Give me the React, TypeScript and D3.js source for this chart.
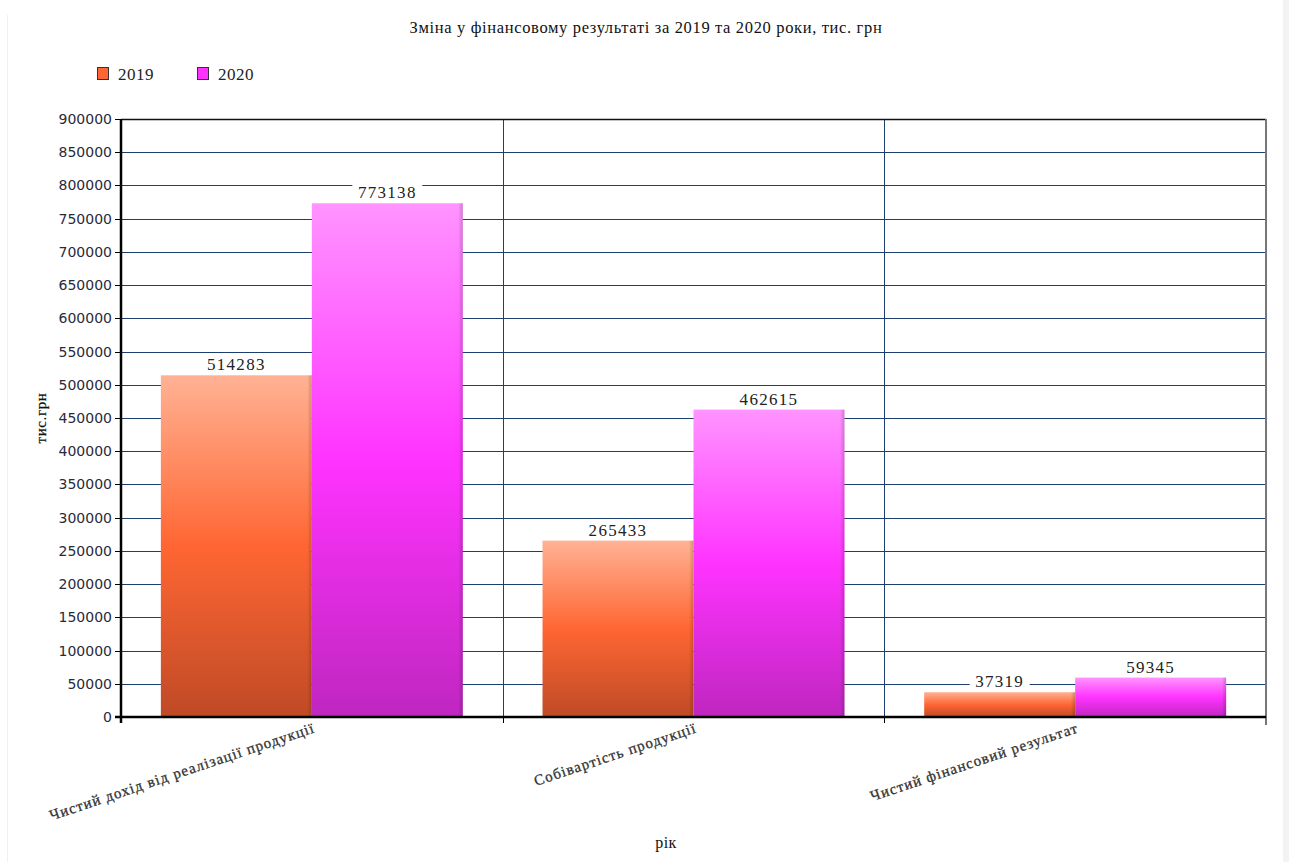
import React from "react";
import * as d3 from "d3";

const categories = [
  "Чистий дохід від реалізації продукції",
  "Собівартість продукції",
  "Чистий фінансовий результат",
];
const seriesNames = ["2019", "2020"];
const values2019 = [514283, 265433, 37319];
const values2020 = [773138, 462615, 59345];
const yTicks = d3.range(0, 900001, 50000);

const W = 1289;
const H = 862;
const M = { left: 121, right: 1266, top: 119, bottom: 717 };

export default function App() {
  const x0 = d3
    .scaleBand<string>()
    .domain(categories)
    .range([M.left, M.right])
    .paddingInner(0)
    .paddingOuter(0);
  const x1 = d3
    .scaleBand<string>()
    .domain(seriesNames)
    .range([0, x0.bandwidth()])
    .paddingOuter(0.264)
    .paddingInner(0);
  const y = d3.scaleLinear().domain([0, 900000]).range([M.bottom, M.top]);

  const series = [
    { name: "2019", values: values2019, grad: "g2019", legend: "#ff6633" },
    { name: "2020", values: values2020, grad: "g2020", legend: "#ff33ff" },
  ];

  const serif = "'Liberation Serif', 'Times New Roman', serif";
  const sans = "'DejaVu Sans', Verdana, sans-serif";

  return (
    <svg
      width={W}
      height={H}
      style={{ position: "absolute", left: 0, top: 0, display: "block", background: "#fff" }}
    >
      <defs>
        <linearGradient id="g2019" x1="0" y1="0" x2="0" y2="1">
          <stop offset="0" stopColor="#ffb294" />
          <stop offset="0.5" stopColor="#ff6633" />
          <stop offset="1" stopColor="#bf4a26" />
        </linearGradient>
        <linearGradient id="g2020" x1="0" y1="0" x2="0" y2="1">
          <stop offset="0" stopColor="#ff94ff" />
          <stop offset="0.5" stopColor="#ff33ff" />
          <stop offset="1" stopColor="#bf26bf" />
        </linearGradient>
        <linearGradient id="edge" x1="0" y1="0" x2="1" y2="0">
          <stop offset="0" stopColor="#000" stopOpacity="0" />
          <stop offset="0.97" stopColor="#000" stopOpacity="0" />
          <stop offset="1" stopColor="#000" stopOpacity="0.18" />
        </linearGradient>
      </defs>

      <rect x={1283} y={0} width={6} height={H} fill="#f3f3f3" />
      <line x1={7.5} y1={15} x2={7.5} y2={H} stroke="#f0f0f0" />

      {/* Title */}
      <text
        x={646}
        y={33}
        textAnchor="middle"
        fontFamily={serif}
        fontSize={16.5}
        letterSpacing={0.65}
        fill="#111"
      >
        Зміна у фінансовому результаті за 2019 та 2020 роки, тис. грн
      </text>

      {/* Legend */}
      {series.map((s, i) => (
        <g key={s.name} transform={`translate(${97 + i * 100},67)`}>
          <rect x={0.5} y={0.5} width={11} height={12} fill={s.legend} stroke="#333" />
          <text x={21} y={12.5} fontFamily={serif} fontSize={17} letterSpacing={0.5} fill="#222">
            {s.name}
          </text>
        </g>
      ))}

      {/* Horizontal gridlines */}
      {yTicks.filter((t) => t > 0 && t < 900000).map((t) => (
        <line
          key={t}
          x1={M.left}
          x2={M.right}
          y1={Math.round(y(t)) + 0.5}
          y2={Math.round(y(t)) + 0.5}
          stroke="#1c3f70"
          strokeWidth={1}
        />
      ))}
      {/* Vertical separators */}
      {categories.slice(1).map((c) => (
        <line
          key={c}
          x1={Math.round(x0(c)!) + 0.5}
          x2={Math.round(x0(c)!) + 0.5}
          y1={M.top}
          y2={M.bottom + 6}
          stroke="#1c3f70"
        />
      ))}

      {/* Bars */}
      {categories.map((c, ci) => (
        <g key={c} transform={`translate(${x0(c)},0)`}>
          {series.map((s) => {
            const bx = x1(s.name)!;
            const by = y(s.values[ci]);
            const bh = M.bottom - by;
            return (
              <g key={s.name}>
                <rect x={bx} y={by} width={x1.bandwidth()} height={bh} fill={`url(#${s.grad})`} />
                <rect x={bx} y={by} width={x1.bandwidth()} height={bh} fill="url(#edge)" />
              </g>
            );
          })}
        </g>
      ))}

      {/* Data labels */}
      {categories.map((c) =>
        series.map((s) => {
          const ci = categories.indexOf(c);
          const cx = x0(c)! + x1(s.name)! + x1.bandwidth() / 2;
          const by = y(s.values[ci]);
          const label = String(s.values[ci]);
          const w = label.length * 10 + 10;
          return (
            <g key={c + s.name}>
              <rect x={cx - w / 2} y={by - 21} width={w} height={20} fill="#fff" />
              <text
                x={cx}
                y={by - 5}
                textAnchor="middle"
                fontFamily={serif}
                fontSize={17}
                letterSpacing={1.3}
                fill="#222"
              >
                {label}
              </text>
            </g>
          );
        })
      )}

      {/* Frame */}
      <line x1={M.left} x2={M.right} y1={M.top + 0.5} y2={M.top + 0.5} stroke="#111" strokeWidth={1.5} />
      <line x1={M.right} x2={M.right} y1={M.top} y2={M.bottom + 8} stroke="#777" strokeWidth={2} />
      <line x1={M.left} x2={M.left} y1={M.top} y2={M.bottom + 6} stroke="#000" strokeWidth={2.5} />
      <line x1={M.left - 6} x2={M.right} y1={M.bottom} y2={M.bottom} stroke="#000" strokeWidth={2.5} />

      {/* Y ticks */}
      {yTicks.map((t) => (
        <g key={t}>
          <line
            x1={M.left - 6}
            x2={M.left}
            y1={Math.round(y(t)) + 0.5}
            y2={Math.round(y(t)) + 0.5}
            stroke="#000"
          />
          <text
            x={M.left - 9}
            y={y(t) + 5}
            textAnchor="end"
            fontFamily={sans}
            fontSize={14}
            fill="#2a2a3a"
          >
            {t}
          </text>
        </g>
      ))}

      {/* X ticks at boundaries */}
      {categories.map((c) => (
        <line
          key={c}
          x1={Math.round(x0(c)!) + 0.5}
          x2={Math.round(x0(c)!) + 0.5}
          y1={M.bottom}
          y2={M.bottom + 6}
          stroke="#000"
        />
      ))}

      {/* X category labels */}
      {categories.map((c) => {
        const cx = x0(c)! + x0.bandwidth() / 2;
        return (
          <text
            key={c}
            transform={`translate(${cx + 4},${M.bottom + 15}) rotate(-18.5)`}
            textAnchor="end"
            fontFamily={serif}
            fontSize={15}
            letterSpacing={1.1}
            fill="#333"
            stroke="#333"
            strokeWidth={0.3}
          >
            {c}
          </text>
        );
      })}

      {/* Axis titles */}
      <text
        transform={`translate(46,${(M.top + M.bottom) / 2}) rotate(-90)`}
        textAnchor="middle"
        fontFamily={serif}
        fontSize={15}
        letterSpacing={0.6}
        fill="#111"
        stroke="#111"
        strokeWidth={0.2}
      >
        тис.грн
      </text>
      <text x={666} y={848} textAnchor="middle" fontFamily={serif} fontSize={16} letterSpacing={0.5} fill="#111">
        рік
      </text>
    </svg>
  );
}
